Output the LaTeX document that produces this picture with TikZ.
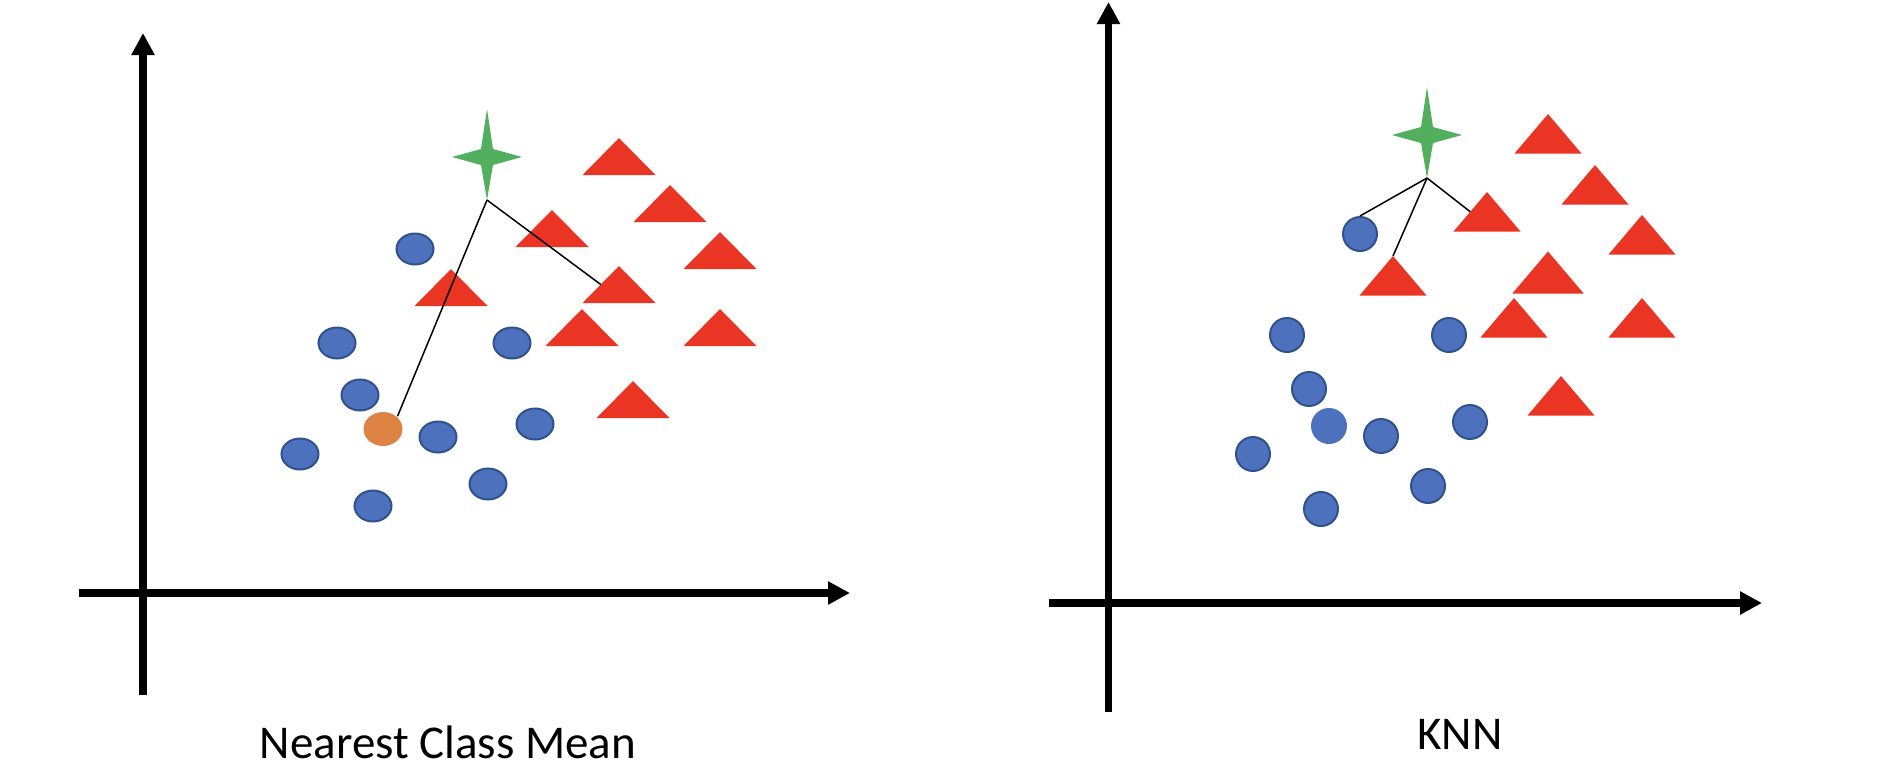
\documentclass[tikz,border=0pt]{standalone}
\usepackage{fontspec}
\setmainfont{Carlito}
\usetikzlibrary{arrows.meta,shapes.geometric}

\definecolor{dotblue}{HTML}{4E71BE}
\definecolor{dotedge}{HTML}{2F528F}
\definecolor{trired}{HTML}{EA3424}
\definecolor{meanorange}{HTML}{DF8344}
\definecolor{querygreen}{HTML}{51AF5D}

\tikzset{
  axisline/.style={line width=7.5pt,-{Triangle[length=22pt,width=22pt]}},
  link/.style={line width=1.5pt},
  dot/.style={ellipse,fill=dotblue,draw=dotedge,line width=2pt,
    minimum width=37pt,minimum height=31pt,inner sep=0pt},
  kdot/.style={circle,fill=dotblue,draw=dotedge,line width=2pt,
    minimum size=34pt,inner sep=0pt},
  plotname/.style={anchor=base,inner sep=0pt,text depth=0pt,font=\fontsize{47}{56}\selectfont},
  ntri/.pic={\fill[trired,pic actions] (0,0) -- (-36.5,37) -- (36.5,37) -- cycle;
    \coordinate (-top) at (0,0); \coordinate (-left) at (-18.25,18.5);},
  ktri/.pic={\fill[trired,pic actions] (0,0) -- (-33.5,39.5) -- (33.5,39.5) -- cycle;
    \coordinate (-top) at (0,0); \coordinate (-left) at (-16.75,19.75);},
  spark/.pic={\fill[querygreen] (0,-48) -- (6,-8) -- (35,0) -- (6,8) -- (0,43)
    -- (-6,8) -- (-35,0) -- (-6,-8) -- cycle;
    \coordinate (-tip) at (0,43);}
}

\begin{document}
\begin{tikzpicture}[x=1pt,y=-1pt]
  \useasboundingbox (0,0) rectangle (1894,766);

  % nearest class mean
  \draw[axisline] (79,593) -- (850,593);
  \draw[axisline] (143,695) -- (143,33);
  \foreach \n/\x/\y in {a1/619/138,a2/670/185,a3/552/210,a4/720/232,
                        a6/451/269,a7/582/309,a8/720/309,a9/633/381}
    \pic (\n) at (\x,\y) {ntri};
  \pic[fill=meanorange] (mt) at (619,266) {ntri};
  \foreach \n/\x/\y in {b1/415/249,b2/337/343,b3/512/343,b4/360/395,b5/438/437,
                        b6/535/424,b7/300/454,b8/488/484,b9/373/506}
    \node[dot] (\n) at (\x,\y) {};
  \node[dot,fill=meanorange,draw=none,minimum width=39pt,minimum height=34pt] (mc) at (383,429) {};
  \pic (q1) at (487,157) {spark};
  \draw[link] (q1-tip) -- (mc.north east);
  \draw[link] (q1-tip) -- (mt-left);
  \node[plotname] (ncm) at (448,758) {Nearest Class Mean};

  % knn
  \draw[axisline] (1049,603) -- (1762,603);
  \draw[axisline] (1108.5,712) -- (1108.5,2);
  \foreach \n/\x/\y in {ta/1548/114,tb/1595/165,tc/1487/192,td/1642/215,
                        tf/1393/256,tg/1514/298,th/1642/298,ti/1561/376}
    \pic (\n) at (\x,\y) {ktri};
  \pic[draw=meanorange,line width=2pt] (te) at (1548,253) {ktri};
  \foreach \n/\x/\y in {k1/1360/234,k2/1449/335,k3/1287/335,k4/1309/389,k5/1381/436,
                        k6/1470/422,k7/1253/454,k8/1428/486,k9/1321/509}
    \node[kdot] (\n) at (\x,\y) {};
  \node[kdot,draw=none,minimum size=36pt] (k10) at (1329,426) {};
  \pic (q2) at (1427,135) {spark};
  \draw[link] (q2-tip) -- (k1.north);
  \draw[link] (q2-tip) -- (tf-top);
  \draw[link] (q2-tip) -- (tc-left);
  \node[plotname] (knn) at (1460,749) {KNN};
\end{tikzpicture}
\end{document}
